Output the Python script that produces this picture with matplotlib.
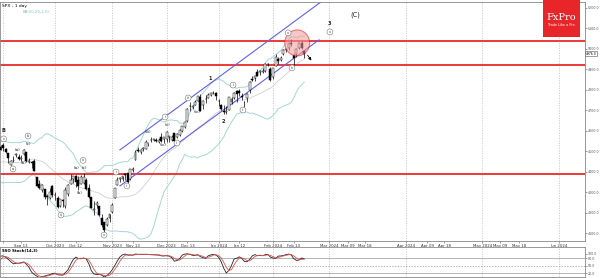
import numpy as np
import pandas as pd
import matplotlib.pyplot as plt
from matplotlib.patches import Ellipse, Rectangle

# SPX daily candles (Aug 2023 - Feb 2024), read/estimated from the chart
dates = ["2023-08-01", "2023-08-02", "2023-08-03", "2023-08-04", "2023-08-07", "2023-08-08", "2023-08-09",
         "2023-08-10", "2023-08-11", "2023-08-14", "2023-08-15", "2023-08-16", "2023-08-17", "2023-08-18",
         "2023-08-21", "2023-08-22", "2023-08-23", "2023-08-24", "2023-08-25", "2023-08-28", "2023-08-29",
         "2023-08-30", "2023-08-31",
         "2023-09-01", "2023-09-05", "2023-09-06", "2023-09-07", "2023-09-08", "2023-09-11", "2023-09-12",
         "2023-09-13", "2023-09-14", "2023-09-15", "2023-09-18", "2023-09-19", "2023-09-20", "2023-09-21",
         "2023-09-22", "2023-09-25", "2023-09-26", "2023-09-27", "2023-09-28", "2023-09-29",
         "2023-10-02", "2023-10-03", "2023-10-04", "2023-10-05", "2023-10-06", "2023-10-09", "2023-10-10",
         "2023-10-11", "2023-10-12", "2023-10-13", "2023-10-16", "2023-10-17", "2023-10-18", "2023-10-19",
         "2023-10-20", "2023-10-23", "2023-10-24", "2023-10-25", "2023-10-26", "2023-10-27", "2023-10-30",
         "2023-10-31",
         "2023-11-01", "2023-11-02", "2023-11-03", "2023-11-06", "2023-11-07", "2023-11-08", "2023-11-09",
         "2023-11-10", "2023-11-13", "2023-11-14", "2023-11-15", "2023-11-16", "2023-11-17", "2023-11-20",
         "2023-11-21", "2023-11-22", "2023-11-24", "2023-11-27", "2023-11-28", "2023-11-29", "2023-11-30",
         "2023-12-01", "2023-12-04", "2023-12-05", "2023-12-06", "2023-12-07", "2023-12-08", "2023-12-11",
         "2023-12-12", "2023-12-13", "2023-12-14", "2023-12-15", "2023-12-18", "2023-12-19", "2023-12-20",
         "2023-12-21", "2023-12-22", "2023-12-26", "2023-12-27", "2023-12-28", "2023-12-29",
         "2024-01-02", "2024-01-03", "2024-01-04", "2024-01-05", "2024-01-08", "2024-01-09", "2024-01-10",
         "2024-01-11", "2024-01-12", "2024-01-16", "2024-01-17", "2024-01-18", "2024-01-19", "2024-01-22",
         "2024-01-23", "2024-01-24", "2024-01-25", "2024-01-26", "2024-01-29", "2024-01-30", "2024-01-31",
         "2024-02-01", "2024-02-02", "2024-02-05", "2024-02-06", "2024-02-07", "2024-02-08", "2024-02-09",
         "2024-02-12", "2024-02-13", "2024-02-14", "2024-02-15", "2024-02-16", "2024-02-20"]

opens = [4578, 4550, 4495, 4514, 4491, 4498, 4501, 4487, 4451, 4459, 4479, 4434, 4417, 4345, 4380, 4416,
         4397, 4456, 4389, 4427, 4432, 4500, 4518,
         4531, 4511, 4490, 4434, 4452, 4481, 4473, 4463, 4487, 4497, 4446, 4445, 4453, 4375, 4342, 4310,
         4313, 4282, 4270, 4328,
         4284, 4270, 4233, 4260, 4234, 4289, 4340, 4366, 4381, 4361, 4342, 4345, 4357, 4322, 4274, 4211,
         4236, 4232, 4175, 4152, 4139, 4172,
         4201, 4269, 4335, 4365, 4364, 4385, 4392, 4365, 4407, 4458, 4505, 4497, 4510, 4512, 4538, 4553,
         4555, 4555, 4546, 4571, 4558,
         4559, 4569, 4557, 4587, 4568, 4577, 4601, 4619, 4647, 4721, 4714, 4726, 4743, 4764, 4725, 4754,
         4759, 4774, 4786, 4782,
         4745, 4726, 4698, 4690, 4703, 4742, 4760, 4792, 4792, 4772, 4739, 4761, 4797, 4853, 4856, 4888,
         4886, 4888, 4893, 4926, 4900,
         4861, 4917, 4950, 4947, 4973, 4996, 5005, 5027, 4968, 4976, 5004, 5031, 4990]
highs = [4584, 4550, 4520, 4540, 4520, 4503, 4502, 4527, 4476, 4490, 4481, 4450, 4421, 4387, 4400, 4418,
         4444, 4458, 4419, 4439, 4500, 4522, 4532,
         4541, 4515, 4490, 4458, 4474, 4491, 4487, 4479, 4511, 4497, 4466, 4452, 4461, 4376, 4357, 4338,
         4313, 4292, 4318, 4333,
         4300, 4281, 4268, 4268, 4325, 4341, 4386, 4378, 4385, 4377, 4383, 4394, 4369, 4340, 4277, 4255,
         4255, 4233, 4191, 4156, 4177, 4194,
         4245, 4319, 4373, 4372, 4379, 4391, 4393, 4415, 4421, 4505, 4521, 4511, 4521, 4557, 4542, 4568,
         4560, 4562, 4562, 4587, 4569,
         4599, 4575, 4579, 4590, 4590, 4609, 4623, 4644, 4710, 4739, 4725, 4748, 4768, 4779, 4748, 4773,
         4785, 4785, 4793, 4789,
         4755, 4730, 4727, 4722, 4764, 4766, 4791, 4798, 4802, 4783, 4745, 4782, 4842, 4868, 4866, 4903,
         4898, 4907, 4929, 4932, 4913,
         4907, 4976, 4958, 4964, 4999, 5001, 5031, 5049, 4973, 5002, 5033, 5039, 4994]
lows = [4567, 4505, 4490, 4474, 4491, 4464, 4462, 4458, 4443, 4454, 4433, 4403, 4365, 4335, 4360, 4382,
        4396, 4375, 4357, 4415, 4431, 4496, 4507,
        4501, 4489, 4443, 4431, 4448, 4471, 4456, 4453, 4479, 4447, 4442, 4416, 4402, 4329, 4316, 4302,
        4265, 4238, 4264, 4274,
        4260, 4220, 4226, 4226, 4220, 4283, 4339, 4346, 4325, 4312, 4342, 4339, 4311, 4269, 4223, 4190,
        4224, 4181, 4127, 4103, 4132, 4154,
        4197, 4269, 4335, 4347, 4354, 4359, 4343, 4360, 4396, 4458, 4495, 4487, 4500, 4511, 4525, 4545,
        4552, 4546, 4541, 4547, 4538,
        4547, 4547, 4551, 4547, 4566, 4575, 4593, 4612, 4643, 4694, 4705, 4725, 4743, 4698, 4708, 4736,
        4758, 4768, 4781, 4752,
        4722, 4700, 4682, 4683, 4700, 4730, 4756, 4740, 4768, 4748, 4715, 4740, 4786, 4844, 4842, 4866,
        4870, 4881, 4888, 4917, 4845,
        4853, 4917, 4927, 4940, 4970, 4987, 4996, 5016, 4920, 4962, 4999, 4998, 4954]
closes = [4577, 4513, 4502, 4478, 4518, 4499, 4468, 4469, 4464, 4490, 4438, 4404, 4370, 4370, 4400, 4388,
          4436, 4376, 4406, 4433, 4498, 4515, 4508,
          4516, 4497, 4465, 4451, 4457, 4487, 4462, 4467, 4505, 4450, 4454, 4444, 4402, 4330, 4320, 4337,
          4274, 4275, 4300, 4288,
          4288, 4229, 4264, 4258, 4309, 4336, 4358, 4377, 4350, 4328, 4374, 4373, 4315, 4278, 4224, 4217,
          4248, 4187, 4137, 4117, 4167, 4194,
          4238, 4318, 4358, 4366, 4378, 4383, 4347, 4415, 4412, 4496, 4503, 4508, 4514, 4547, 4538, 4557,
          4559, 4550, 4555, 4551, 4568,
          4595, 4570, 4567, 4549, 4586, 4604, 4622, 4644, 4707, 4720, 4719, 4741, 4768, 4698, 4747, 4755,
          4775, 4782, 4783, 4770,
          4743, 4705, 4689, 4697, 4764, 4757, 4783, 4780, 4784, 4766, 4739, 4781, 4840, 4850, 4865, 4869,
          4894, 4891, 4928, 4925, 4846,
          4906, 4959, 4943, 4954, 4995, 4998, 5027, 5022, 4953, 5001, 5030, 5006, 4976]

# analysis drawings
support_resistance = [5040, 4920, 4390]
channel_upper = [("2023-11-06", 4506), ("2024-02-29", 5229)]
channel_lower = [("2023-11-06", 4330), ("2024-02-28", 5044)]

# wave labels: (bar position, price, text, circled)
wave_labels = [(23.0, 4603, "B", False), (23.2, 4560, "c", True), (28.7, 4506, "(a)", False),
               (32.6, 4574, "b", True), (32.6, 4535, "(c)", False), (26.8, 4413, "a", True),
               (30.7, 4442, "(b)", False), (51.1, 4418, "(a)", False), (54.4, 4418, "(c)", False),
               (53.8, 4455, "iv", True), (52.3, 4295, "(b)", False), (45.3, 4188, "iii", True),
               (61.9, 4090, "v", True), (66.5, 4398, "i", True), (70.7, 4330, "ii", True),
               (78.8, 4594, "(iii)", False), (85.4, 4667, "i", True), (86.2, 4628, "(v)", False),
               (84.6, 4530, "(iv)", False), (90.0, 4540, "ii", True), (97.7, 4690, "(iv)", False),
               (94.3, 4760, "iii", True), (102.7, 4855, "1", False), (107.7, 4645, "2", False),
               (111.6, 4823, "i", True), (115.4, 4701, "ii", True), (132.8, 5078, "v", True),
               (134.3, 4907, "iv", True), (148.9, 5122, "3", False), (148.9, 5083, "v", True)]
degree_label = (158.6, 5166, "(C)")

month_ticks = ["", "Oct 2023", "Nov 2023", "Dec 2023", "Jan 2024", "Feb 2024",
               "Mar 2024", "Apr 2024", "May 2024", "Jun 2024"]
month_pos = [23, 43, 65, 86, 106, 127, 148.6, 178.3, 207.6, 237.2]
mid_ticks = ["Sep 13", "Oct 12", "Nov 13", "Dec 13", "Jan 12", "Feb 13",
             "Mar 09", "Mar 18", "Apr 09", "Apr 18", "May 09", "May 18"]
mid_pos = [30, 51, 73, 94, 114, 135, 155.9, 162.5, 186.4, 192.9, 214.5, 221.8]

df = pd.DataFrame({"open": opens, "high": highs, "low": lows, "close": closes}, index=pd.to_datetime(dates))
x = np.arange(len(df))
pos_of = {d: i for i, d in enumerate(dates)}

# Bollinger Bands (20, 2.0)
mid = df["close"].rolling(20).mean()
sd = df["close"].rolling(20).std(ddof=0)
bb_up = mid + 2 * sd
bb_lo = mid - 2 * sd

# slow stochastic (14, 3)
ll = df["low"].rolling(14).min()
hh = df["high"].rolling(14).max()
fast_k = 100 * (df["close"] - ll) / (hh - ll)
slow_k = fast_k.rolling(3).mean()
slow_d = slow_k.rolling(3).mean()

fig = plt.figure(figsize=(6, 2.78), dpi=100)
ax = fig.add_axes([0, 1 - 241 / 278, 585 / 600, 239 / 278])
ax2 = fig.add_axes([0, 1 / 278, 585 / 600, 30 / 278])

grid_c = "#c8c8c8"
for p in month_pos:
    ax.axvline(p, color=grid_c, lw=0.6, ls=(0, (1.5, 1.5)), zorder=0)
    ax2.axvline(p, color=grid_c, lw=0.6, ls=(0, (1.5, 1.5)), zorder=0)

# bands
ax.plot(x, bb_up, color="#a6d6d6", lw=0.7, zorder=1)
ax.plot(x, bb_lo, color="#a6d6d6", lw=0.7, zorder=1)
ax.plot(x, mid, color="#d0d0d0", lw=0.6, zorder=1)

# red levels
for lvl in support_resistance:
    ax.axhline(lvl, color="#ee3838", lw=1.4, zorder=2)

# channel
for line in (channel_upper, channel_lower):
    x0 = pos_of[line[0][0]]
    x1 = len(dates) - 1 + (pd.Timestamp(line[1][0]) - df.index[-1]).days * 5 / 7
    ax.plot([x0, x1], [line[0][1], line[1][1]], color="#6060f0", lw=0.8, zorder=2)

# candles
up = df["close"] >= df["open"]
ax.vlines(x, df["low"], df["high"], color="black", lw=0.5, zorder=3)
body = (df["close"] - df["open"]).abs().clip(lower=3)
bottom = df[["open", "close"]].min(axis=1)
ax.bar(x, body, bottom=bottom, width=0.75, color=np.where(up, "white", "black"),
       edgecolor="black", linewidth=0.35, zorder=4)

# highlight circle at the top
ax.add_patch(Ellipse((136.3, 5029), 9.6, 127, facecolor="#f29a9a", alpha=0.55,
                     edgecolor="#e02020", lw=0.8, zorder=5))
ax.annotate("", xy=(142.4, 4932), xytext=(139.7, 4980),
            arrowprops=dict(arrowstyle="-|>", color="black", lw=0.6, mutation_scale=4), zorder=6)

for xp, yp, t, circ in wave_labels:
    if circ:
        ax.text(xp, yp, t, fontsize=2.6, ha="center", va="center", color="#333333", zorder=6,
                bbox=dict(boxstyle="circle,pad=0.25", fc="white", ec="#777777", lw=0.4))
    else:
        ax.text(xp, yp, t, fontsize=3.6 if len(t) == 1 else 3.0, ha="center", va="center",
                color="#222222", zorder=6, fontweight="bold" if len(t) == 1 else "normal")
ax.text(degree_label[0], degree_label[1], degree_label[2], fontsize=4.8, ha="center", va="center",
        color="#222222", zorder=6)

ax.set_xlim(21.8, 247.2)
ax.set_ylim(4061, 5229)
ax2.set_xlim(21.8, 247.2)
ax2.set_ylim(4, 127)

# right price axis
ax.yaxis.tick_right()
ax.set_yticks(np.arange(4100, 5201, 100))
ax.set_yticklabels([f"{v:.1f}" for v in np.arange(4100, 5201, 100)], fontsize=2.3, color="#333333")
ax.set_yticks(np.arange(4080, 5229, 20), minor=True)
ax.tick_params(axis="y", which="major", length=1.5, width=0.4, pad=0.5, colors="#555555")
ax.tick_params(axis="y", which="minor", length=0.8, width=0.3, colors="#777777")
ax.text(1.001, (df["close"].iloc[-1] - 4061) / (5229 - 4061), f"{df['close'].iloc[-1]:.1f}",
        transform=ax.transAxes, fontsize=2.2, va="center", ha="left",
        bbox=dict(boxstyle="square,pad=0.15", fc="white", ec="#555555", lw=0.4))

ax.set_xticks(month_pos + mid_pos)
ax.set_xticklabels(month_ticks + mid_ticks, fontsize=2.8, color="#333333")
ax.tick_params(axis="x", length=1.5, width=0.4, pad=0.8, colors="#555555")
for lab in ax.get_xticklabels():
    lab.set_color("#333333")

for a in (ax, ax2):
    for s in a.spines.values():
        s.set_color("#888888")
        s.set_linewidth(0.6)

ax.text(0.004, 0.99, "SPX - 1 day", transform=ax.transAxes, fontsize=3.2, va="top", ha="left")
ax.text(0.038, 0.965, "BB(20,20,2.0)", transform=ax.transAxes, fontsize=2.8, va="top", ha="left",
        color="#80c0c0")

# FxPro logo
fig.add_artist(Rectangle((543 / 600, 1 - 37 / 278), 37 / 600, 37 / 278, transform=fig.transFigure,
                         facecolor="#e8262a", edgecolor="none", zorder=10))
fig.text(561.5 / 600, 1 - 17 / 278, "FxPro", color="white", fontsize=7, family="DejaVu Serif",
         ha="center", va="center", zorder=11)
fig.text(561.5 / 600, 1 - 25 / 278, "Trade Like a Pro", color="white", fontsize=2.4,
         ha="center", va="center", zorder=11)

# stochastic panel
ax2.axhline(80, color="#999999", lw=0.5)
ax2.axhline(50, color="#999999", lw=0.5, ls=(0, (2, 2)))
ax2.axhline(20, color="#999999", lw=0.5)
ax2.plot(x, slow_k, color="#222222", lw=0.6)
ax2.plot(x, slow_d, color="#e05050", lw=0.6)
ax2.yaxis.tick_right()
ax2.set_yticks([20, 50, 80, 100])
ax2.set_yticklabels(["20.0", "50.0", "80.0", "100.0"], fontsize=2.3)
ax2.tick_params(axis="y", length=1.5, width=0.4, pad=0.5, colors="#555555")
ax2.set_xticks([])
ax2.text(0.004, 0.93, "SSO Stoch(14,3)", transform=ax2.transAxes, fontsize=2.8, va="top",
         ha="left", fontweight="bold")

fig.savefig("out.png", dpi=100, facecolor="white")
